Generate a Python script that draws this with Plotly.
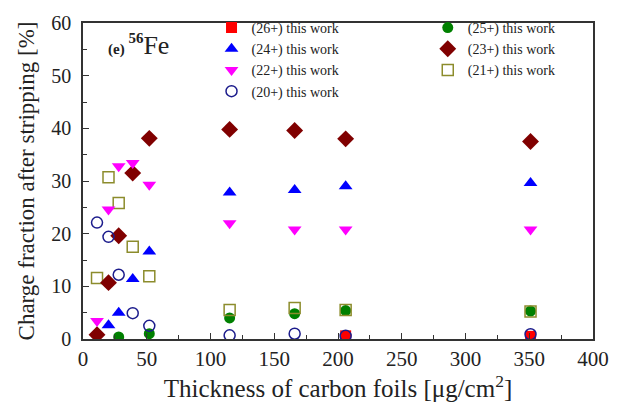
import plotly.graph_objects as go

x_all = [11, 20, 28, 39, 52, 115, 166, 206, 351]

x26 = [206, 351]
y26 = [0.6, 0.5]

x25 = [28, 52, 115, 166, 206, 351]
y25 = [0.4, 1.0, 4.0, 4.8, 5.4, 5.3]

x24 = [20, 28, 39, 52, 115, 166, 206, 351]
y24 = [2.6, 5.0, 11.4, 16.6, 27.8, 28.3, 29.0, 29.6]

x23 = x_all
y23 = [0.8, 10.7, 19.6, 31.5, 38.1, 39.8, 39.6, 38.0, 37.5]

x22 = x_all
y22 = [3.4, 24.6, 32.8, 33.4, 29.3, 22.0, 20.8, 20.8, 20.8]

x21 = x_all
y21 = [11.6, 30.7, 25.8, 17.5, 11.9, 5.5, 5.9, 5.5, 5.2]

x20 = x_all
y20 = [22.1, 19.4, 12.2, 4.9, 2.5, 0.7, 1.0, 0.6, 0.9]

FONT = "Times New Roman, Liberation Serif, serif"

series = [
    # name, x, y, symbol, color, legend
    ("(26+) this work", x26, y26, "square", "#ff0000", "legend"),
    ("(24+) this work", x24, y24, "triangle-up", "#0000ff", "legend"),
    ("(22+) this work", x22, y22, "triangle-down", "#ff00ff", "legend"),
    ("(20+) this work", x20, y20, "circle-open", "#1c1c8c", "legend"),
    ("(25+) this work", x25, y25, "circle", "#008000", "legend2"),
    ("(23+) this work", x23, y23, "diamond", "#800000", "legend2"),
    ("(21+) this work", x21, y21, "square-open", "#8c8c2c", "legend2"),
]

fig = go.Figure()
draw_order = [4, 0, 6, 5, 1, 2, 3]
for i in draw_order:
    name, xs, ys, sym, col, leg = series[i]
    open_ = sym.endswith("open")
    size = 11 if sym.startswith("circle") or sym.startswith("square") else 12
    if sym == "diamond":
        size = 13
    fig.add_trace(go.Scatter(
        x=xs, y=ys, mode="markers", name=name, legend=leg,
        legendrank=i,
        marker=dict(symbol=sym, size=size, color=col,
                    line=dict(width=1.5 if open_ else 0, color=col)),
    ))

axis_common = dict(
    showline=True, linecolor="#333333", linewidth=1.5, mirror=True,
    ticks="inside", ticklen=6, tickwidth=1.2, tickcolor="#333333",
    showgrid=False, zeroline=False,
)

fig.update_layout(
    width=621, height=403,
    margin=dict(l=83, r=26, t=13, b=64),
    paper_bgcolor="white", plot_bgcolor="white",
    font=dict(family=FONT, color="#222222"),
    xaxis=dict(range=[0, 400], tickvals=[0, 50, 100, 150, 200, 250, 300, 350, 400],
               minor=dict(ticks="inside", dtick=25, tick0=0, ticklen=4, tickcolor="#333333"),
               tickfont=dict(family=FONT, size=21, color="#222222"),
               title=dict(text="Thickness of carbon foils [μg/cm<sup>2</sup>]",
                          font=dict(family=FONT, size=25), standoff=2),
               **axis_common),
    yaxis=dict(range=[0, 60], tickvals=[0, 10, 20, 30, 40, 50, 60],
               minor=dict(ticks="inside", dtick=5, tick0=0, ticklen=4, tickcolor="#333333"),
               tickfont=dict(family=FONT, size=20, color="#222222"),
               ticklabelstandoff=6,
               title=dict(text="Charge fraction after stripping [%]",
                          font=dict(family=FONT, size=23), standoff=10),
               **axis_common),
    legend=dict(x=0.252, y=1.035, xanchor="left", yanchor="top",
                bgcolor="rgba(0,0,0,0)", font=dict(family=FONT, size=14),
                tracegroupgap=0),
    legend2=dict(x=0.676, y=1.035, xanchor="left", yanchor="top",
                 bgcolor="rgba(0,0,0,0)", font=dict(family=FONT, size=14),
                 tracegroupgap=0),
    showlegend=True,
)

fig.add_annotation(
    x=0.045, y=0.93, xref="paper", yref="paper", xanchor="left", yanchor="middle",
    showarrow=False,
    text="<b><span style='font-size:15px'>(e) </span></b><b><sup><span style='font-size:15px'>56</span></sup></b><span style='font-size:26px'>Fe</span>",
    font=dict(family=FONT, size=26, color="#222222"),
)

fig.write_html("out.html")
